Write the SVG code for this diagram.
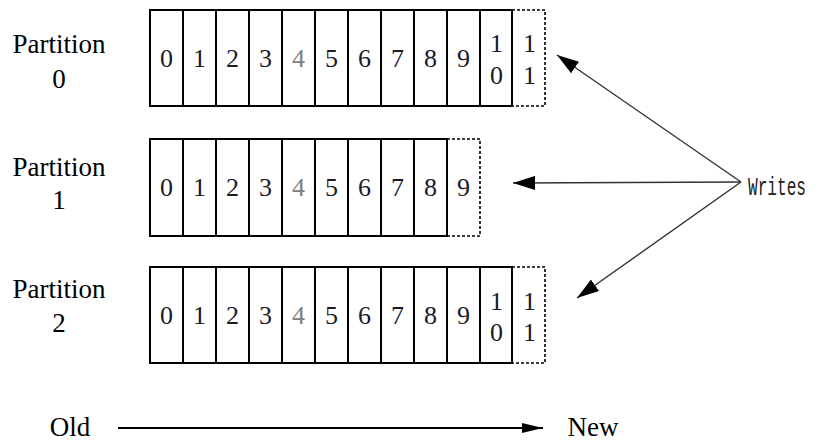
<svg xmlns="http://www.w3.org/2000/svg" width="832" height="441" viewBox="0 0 832 441">
<defs>
<style>
.lbl{font-size:27px;fill:#000;text-anchor:middle}
.d{font-size:26px;fill:#1a1a2a;text-anchor:middle}
.g{fill:#808080}
.box{fill:#fff;stroke:#000;stroke-width:2}
.sep{stroke:#000;stroke-width:2}
.dash{fill:none;stroke:#000;stroke-width:1.6;stroke-dasharray:3 2}
.wr{stroke:#333;stroke-width:1.4;fill:none}
</style>
<marker id="ah" viewBox="0 0 22 14" refX="22" refY="7" markerWidth="22" markerHeight="14" markerUnits="userSpaceOnUse" orient="auto">
<path d="M0,0 L22,7 L0,14 Z" fill="#000"/>
</marker>
<marker id="ah2" viewBox="0 0 21 10" refX="21" refY="5" markerWidth="21" markerHeight="10" markerUnits="userSpaceOnUse" orient="auto">
<path d="M0,0 L21,5 L0,10 Z" fill="#000"/>
</marker>
</defs>

<g font-family="'Liberation Serif', 'DejaVu Serif', 'Times New Roman', serif">
<g id="partition0">
<text class="lbl" x="59" y="53">Partition</text>
<text class="lbl" x="59" y="88">0</text>
<path class="dash" d="M512,10 H545 V106 H512"/>
<rect class="box" x="150" y="10" width="362" height="96"/>
<path class="sep" d="M183,10V106M216,10V106M249,10V106M282,10V106M315,10V106M348,10V106M381,10V106M414,10V106M447,10V106M480,10V106"/>
<text class="d" x="166.5" y="67">0</text>
<text class="d" x="199.5" y="67">1</text>
<text class="d" x="232.5" y="67">2</text>
<text class="d" x="265.5" y="67">3</text>
<text class="d g" x="298.5" y="67">4</text>
<text class="d" x="331.5" y="67">5</text>
<text class="d" x="364.5" y="67">6</text>
<text class="d" x="397.5" y="67">7</text>
<text class="d" x="430.5" y="67">8</text>
<text class="d" x="463.5" y="67">9</text>
<text class="d" x="496.5" y="52">1</text>
<text class="d" x="496.5" y="84">0</text>
<text class="d" x="529.5" y="52">1</text>
<text class="d" x="529.5" y="84">1</text>
</g>

<g id="partition1">
<text class="lbl" x="59" y="176">Partition</text>
<text class="lbl" x="59" y="209">1</text>
<path class="dash" d="M447,139 H480 V236 H447"/>
<rect class="box" x="150" y="139" width="297" height="97"/>
<path class="sep" d="M183,139V236M216,139V236M249,139V236M282,139V236M315,139V236M348,139V236M381,139V236M414,139V236"/>
<text class="d" x="166.5" y="196">0</text>
<text class="d" x="199.5" y="196">1</text>
<text class="d" x="232.5" y="196">2</text>
<text class="d" x="265.5" y="196">3</text>
<text class="d g" x="298.5" y="196">4</text>
<text class="d" x="331.5" y="196">5</text>
<text class="d" x="364.5" y="196">6</text>
<text class="d" x="397.5" y="196">7</text>
<text class="d" x="430.5" y="196">8</text>
<text class="d" x="463.5" y="196">9</text>
</g>

<g id="partition2">
<text class="lbl" x="59" y="298">Partition</text>
<text class="lbl" x="59" y="332">2</text>
<path class="dash" d="M512,267 H545 V363 H512"/>
<rect class="box" x="150" y="267" width="362" height="96"/>
<path class="sep" d="M183,267V363M216,267V363M249,267V363M282,267V363M315,267V363M348,267V363M381,267V363M414,267V363M447,267V363M480,267V363"/>
<text class="d" x="166.5" y="324">0</text>
<text class="d" x="199.5" y="324">1</text>
<text class="d" x="232.5" y="324">2</text>
<text class="d" x="265.5" y="324">3</text>
<text class="d g" x="298.5" y="324">4</text>
<text class="d" x="331.5" y="324">5</text>
<text class="d" x="364.5" y="324">6</text>
<text class="d" x="397.5" y="324">7</text>
<text class="d" x="430.5" y="324">8</text>
<text class="d" x="463.5" y="324">9</text>
<text class="d" x="496.5" y="310">1</text>
<text class="d" x="496.5" y="341">0</text>
<text class="d" x="529.5" y="310">1</text>
<text class="d" x="529.5" y="341">1</text>
</g>

<g id="old"><text class="lbl" x="70" y="436">Old</text></g>
<g id="new"><text class="lbl" x="593" y="436">New</text></g>
</g>

<g id="writes" transform="translate(748,195) scale(0.62,1)">
<text x="0" y="0" font-family="'Liberation Mono', 'DejaVu Sans Mono', monospace" font-size="26" fill="#222">Writes</text>
</g>

<g id="connectors">
<line class="wr" x1="741" y1="182" x2="557" y2="55" marker-end="url(#ah)"/>
<line class="wr" x1="741" y1="182" x2="513" y2="183" marker-end="url(#ah)"/>
<line class="wr" x1="741" y1="182" x2="577" y2="298" marker-end="url(#ah)"/>
<line x1="118" y1="428" x2="543" y2="428" stroke="#000" stroke-width="2" marker-end="url(#ah2)"/>
</g>
</svg>
